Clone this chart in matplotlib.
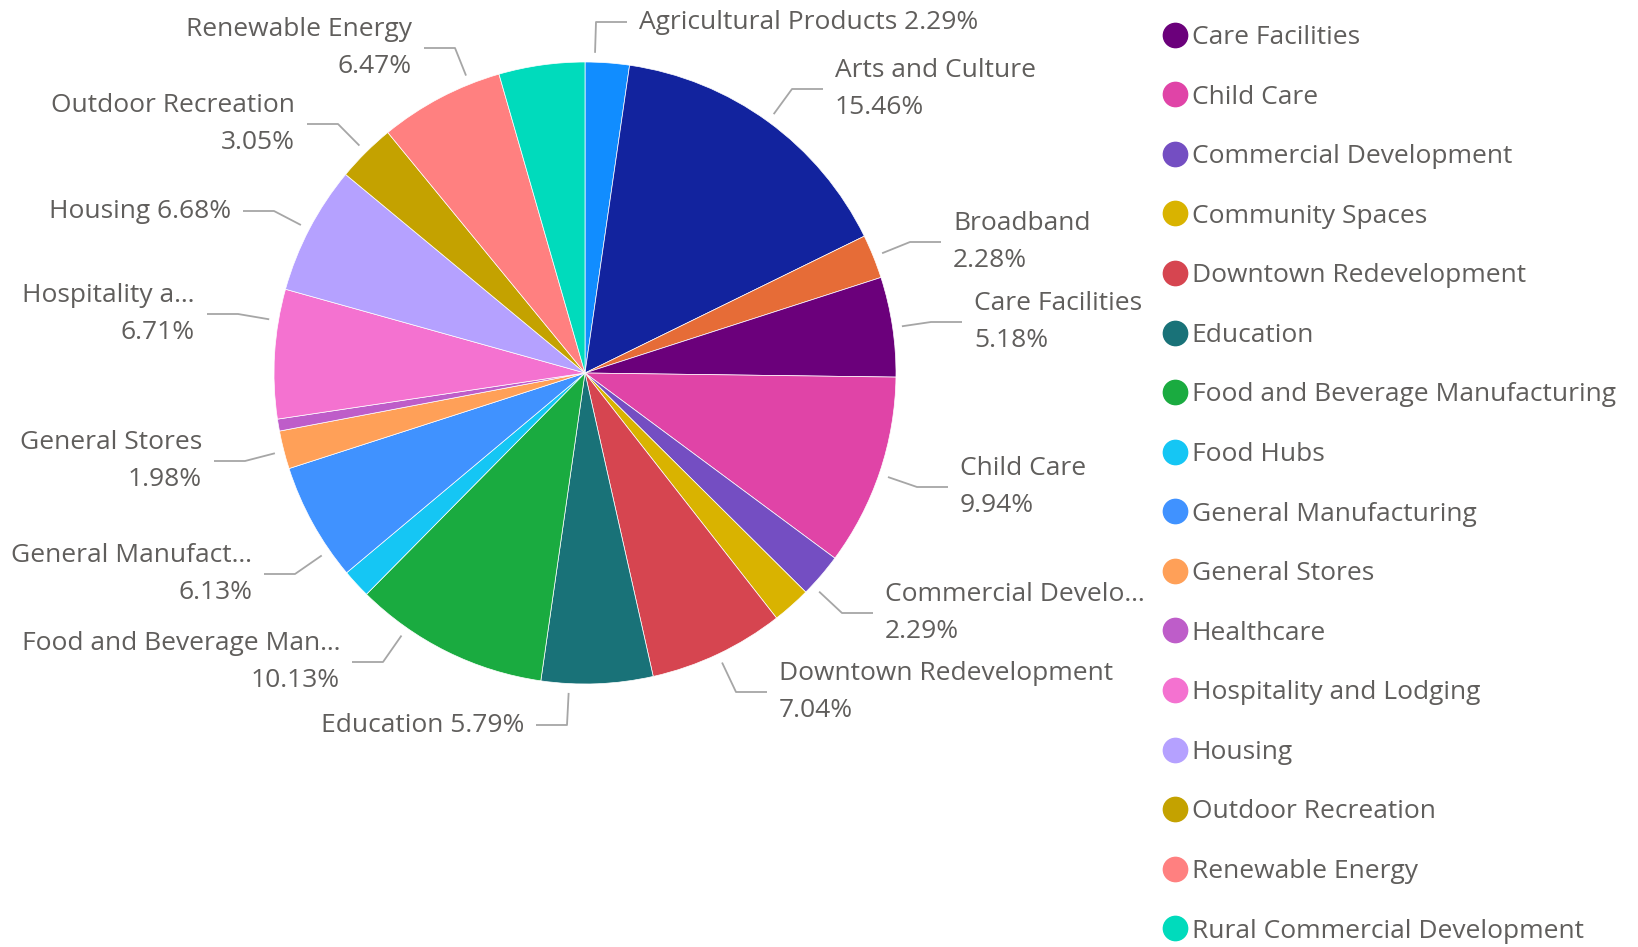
import math
import matplotlib.pyplot as plt
from matplotlib.lines import Line2D

plt.rcParams['font.family'] = ['Open Sans', 'DejaVu Sans']

W, H = 1638, 947

categories = ["Agricultural Products", "Arts and Culture", "Broadband", "Care Facilities",
              "Child Care", "Commercial Development", "Community Spaces",
              "Downtown Redevelopment", "Education", "Food and Beverage Manufacturing",
              "Food Hubs", "General Manufacturing", "General Stores", "Healthcare",
              "Hospitality and Lodging", "Housing", "Outdoor Recreation",
              "Renewable Energy", "Rural Commercial Development"]
shares = [2.29, 15.46, 2.28, 5.18, 9.94, 2.29, 2.00, 7.04, 5.79, 10.13,
          1.50, 6.13, 1.98, 0.62, 6.71, 6.68, 3.05, 6.47, 4.46]
colors = ["#118DFF", "#12239E", "#E66C37", "#6B007B", "#E044A7", "#744EC2", "#D9B300",
          "#D64550", "#197278", "#1AAB40", "#15C6F4", "#4092FF", "#FFA058", "#BE5DC9",
          "#F472D0", "#B5A1FF", "#C4A200", "#FF8080", "#00DBBC"]

# legend is scrolled in the original, first three entries are hidden
legend_start = 3

# label layout, pixels from the top-left corner: shown name, x, y, side, one line
label_pos = {
    "Agricultural Products": ("Agricultural Products", 639, 22, "left", True),
    "Arts and Culture": ("Arts and Culture", 835, 89, "left", False),
    "Broadband": ("Broadband", 953, 242, "left", False),
    "Care Facilities": ("Care Facilities", 974, 322, "left", False),
    "Child Care": ("Child Care", 960, 487, "left", False),
    "Commercial Development": ("Commercial Develo\u2026", 885, 613, "left", False),
    "Downtown Redevelopment": ("Downtown Redevelopment", 779, 692, "left", False),
    "Education": ("Education", 524, 725, "right", True),
    "Food and Beverage Manufacturing": ("Food and Beverage Man\u2026", 340, 662, "right", False),
    "General Manufacturing": ("General Manufact\u2026", 252, 574, "right", False),
    "General Stores": ("General Stores", 202, 461, "right", False),
    "Hospitality and Lodging": ("Hospitality a\u2026", 195, 314, "right", False),
    "Housing": ("Housing", 231, 211, "right", True),
    "Outdoor Recreation": ("Outdoor Recreation", 295, 124, "right", False),
    "Renewable Energy": ("Renewable Energy", 412, 48, "right", False),
}

cx, cy, R = 585, 373, 311
text_color = "#605E5C"
line_color = "#A6A6A6"
fs = 19


def main():
    fig = plt.figure(figsize=(W / 100, H / 100), dpi=100)
    ax = fig.add_axes([0, 0, 1, 1])

    ax.pie(shares, colors=colors, startangle=90, counterclock=False,
           center=(cx, H - cy), radius=R,
           wedgeprops=dict(edgecolor="white", linewidth=0.5))
    ax.set_xlim(0, W)
    ax.set_ylim(0, H)
    ax.set_aspect("auto")
    ax.axis("off")

    # data labels; leader runs from the elbow back toward the centre
    for name, v in zip(categories, shares):
        if name not in label_pos:
            continue
        shown, tx, ty, side, one_line = label_pos[name]
        sign = 1 if side == "left" else -1
        hx = tx - sign * 12
        ex = hx - sign * 31
        d = math.hypot(ex - cx, ty - cy)
        sx = cx + (ex - cx) * 1.03 * R / d
        sy = cy + (ty - cy) * 1.03 * R / d
        ax.plot([sx, ex, hx], [H - sy, H - ty, H - ty], color=line_color, lw=1.3,
                solid_capstyle="butt")
        txt = f"{shown} {v:.2f}%" if one_line else f"{shown}\n{v:.2f}%"
        ax.text(tx, H - ty, txt, ha=side, va="center", multialignment=side,
                fontsize=fs, color=text_color, linespacing=1.65)

    handles = [Line2D([], [], marker="o", linestyle="", markersize=17.5, color=c)
               for c in colors[legend_start:]]
    ax.legend(handles, categories[legend_start:], loc="upper left",
              bbox_to_anchor=(1164 / W, 1 - 25 / H), bbox_transform=fig.transFigure,
              frameon=False, fontsize=fs, labelcolor=text_color, handlelength=0.8,
              handletextpad=0.25, labelspacing=1.31, borderpad=0, borderaxespad=0)

    fig.savefig("out.png", dpi=100, facecolor="white")


if __name__ == '__main__':
    main()
